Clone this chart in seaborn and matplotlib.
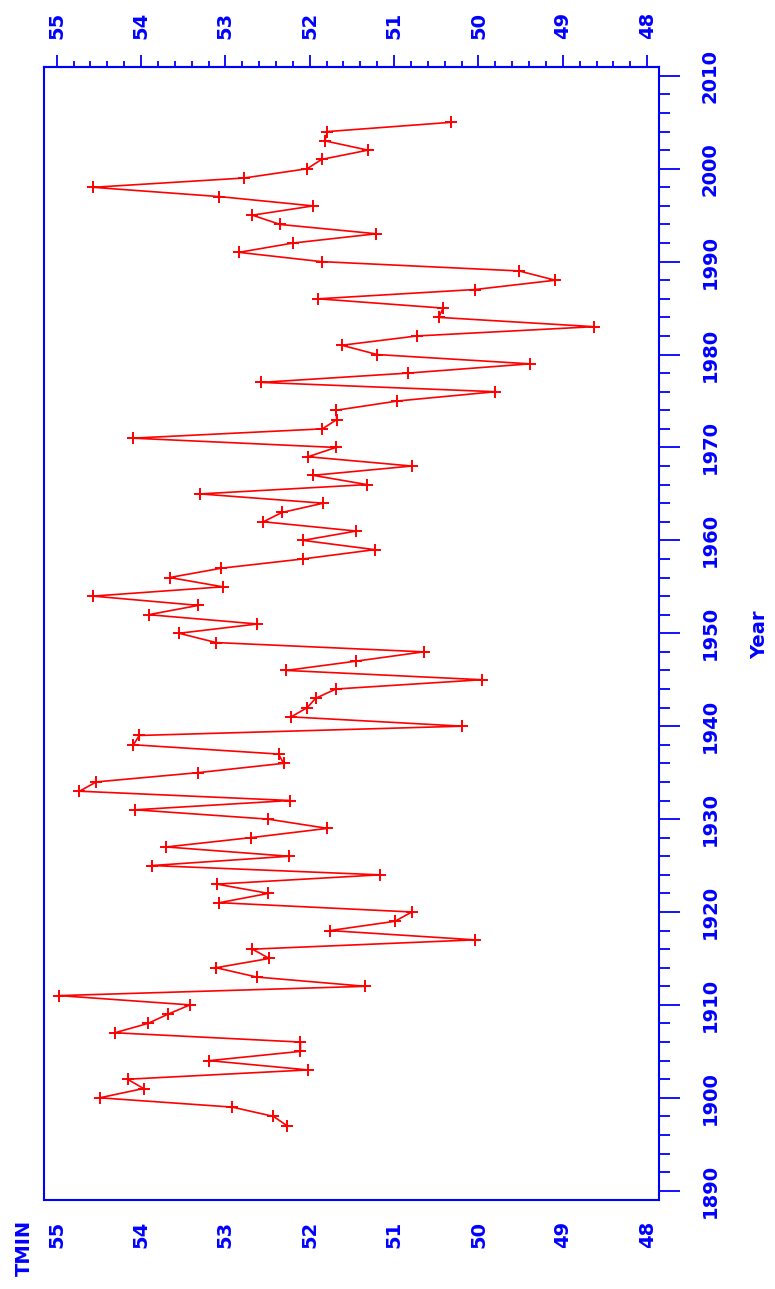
import seaborn as sns
import pandas as pd
import matplotlib.pyplot as plt
from matplotlib.ticker import MultipleLocator

years = list(range(1897, 2006))
tmin = [
    52.27, 52.43, 52.92, 54.49, 53.97, 54.16, 52.02, 53.19, 52.11, 52.11,
    54.31, 53.92, 53.68, 53.42, 54.97, 51.34, 52.63, 53.11, 52.48, 52.68,
    50.04, 51.76, 50.99, 50.79, 53.07, 52.49, 53.10, 51.17, 53.87, 52.25,
    53.70, 52.70, 51.79, 52.50, 54.07, 52.23, 54.73, 54.53, 53.32, 52.31,
    52.37, 54.09, 54.02, 50.19, 52.22, 52.03, 51.93, 51.69, 49.96, 52.28,
    51.45, 50.65, 53.11, 53.55, 52.62, 53.91, 53.32, 54.57, 53.03, 53.66,
    53.05, 52.08, 51.23, 52.08, 51.45, 52.55, 52.33, 51.84, 53.30, 51.32,
    51.96, 50.79, 52.02, 51.69, 54.10, 51.85, 51.68, 51.69, 50.96, 49.80,
    52.58, 50.84, 49.39, 51.20, 51.62, 50.73, 48.63, 50.47, 50.42, 51.90,
    50.04, 49.09, 49.52, 51.86, 52.84, 52.20, 51.21, 52.35, 52.68, 51.96,
    53.07, 54.57, 52.78, 52.03, 51.86, 51.31, 51.82, 51.79, 50.32,
]

df = pd.DataFrame({'Year': years, 'TMIN': tmin})

sns.set_style("white")
plt.rcParams['font.family'] = ['DejaVu Sans']
blue = '#0000ff'
red = '#ff0000'
fs = 14

fig = plt.figure(figsize=(7.75, 12.89), dpi=100)
ax = fig.add_axes([44 / 775, 1 - 1200 / 1289, 615 / 775, 1133 / 1289])

sns.lineplot(data=df, x='TMIN', y='Year', orient='y', sort=False, estimator=None,
             color=red, linewidth=1.2, marker='+', markersize=9,
             markeredgewidth=1.4, markeredgecolor=red, ax=ax)

ax.set_xlim(55.15, 47.86)
ax.set_ylim(1889.0, 2010.95)

fmt = plt.FuncFormatter(lambda v, p: f'{v:.0f}')

# bottom TMIN axis
ax.xaxis.set_major_locator(MultipleLocator(1))
ax.xaxis.set_minor_locator(MultipleLocator(0.2))
ax.xaxis.set_major_formatter(fmt)
ax.tick_params(axis='x', which='both', direction='out', color=blue,
               labelcolor=blue, width=1.3, labelrotation=90, labelsize=fs)
ax.tick_params(axis='x', which='major', length=9, pad=6)
ax.tick_params(axis='x', which='minor', length=4)
for lbl in ax.get_xticklabels():
    lbl.set_fontweight('bold')

# top TMIN axis (mirror)
top = ax.secondary_xaxis('top')
top.xaxis.set_major_locator(MultipleLocator(1))
top.xaxis.set_minor_locator(MultipleLocator(0.2))
top.xaxis.set_major_formatter(fmt)
top.tick_params(axis='x', which='both', direction='out', color=blue,
                labelcolor=blue, width=1.3, labelrotation=90, labelsize=fs)
top.tick_params(axis='x', which='major', length=9, pad=11)
top.tick_params(axis='x', which='minor', length=4)
top.spines['top'].set_color(blue)
top.spines['top'].set_linewidth(1.5)
for lbl in top.get_xticklabels():
    lbl.set_fontweight('bold')

# year axis on the right
ax.yaxis.set_major_locator(MultipleLocator(10))
ax.yaxis.set_minor_locator(MultipleLocator(2))
ax.tick_params(axis='y', which='both', left=False, right=True,
               labelleft=False, labelright=True, direction='out',
               color=blue, labelcolor=blue, width=1.3, labelrotation=90,
               labelsize=fs)
ax.tick_params(axis='y', which='major', length=15, pad=15)
ax.tick_params(axis='y', which='minor', length=8)
for lbl in ax.get_yticklabels():
    lbl.set_fontweight('bold')
    lbl.set_verticalalignment('center')

for s in ax.spines.values():
    s.set_color(blue)
    s.set_linewidth(1.5)

ax.set_xlabel('')
ax.set_ylabel('')
fig.text(24 / 775, 1 - 1248 / 1289, 'TMIN', rotation=90, color=blue,
         fontsize=fs, fontweight='bold', ha='center', va='center')
fig.text(760 / 775, 1 - 635 / 1289, 'Year', rotation=90, color=blue,
         fontsize=fs, fontweight='bold', ha='center', va='center')

fig.savefig('out.png', dpi=100)
